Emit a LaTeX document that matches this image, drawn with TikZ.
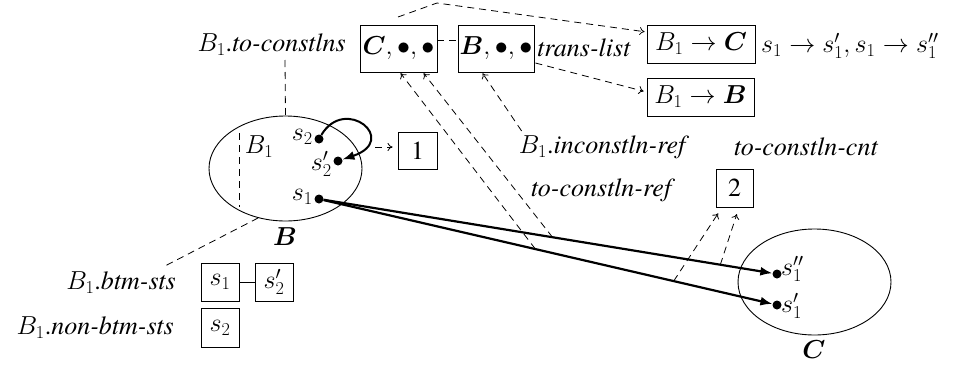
\documentclass[tikz,border=0pt]{standalone}
\usepackage{fix-cm}
\usepackage{fontspec}
\IfFontExistsTF{texgyretermes-regular.otf}{%
  \newfontfamily\tms{texgyretermes}[Extension=.otf, UprightFont=*-regular, ItalicFont=*-italic, BoldFont=*-bold, BoldItalicFont=*-bolditalic]}{%
  \IfFontExistsTF{LiberationSerif-Regular.ttf}{%
    \newfontfamily\tms{LiberationSerif}[Extension=.ttf, UprightFont=*-Regular, ItalicFont=*-Italic, BoldFont=*-Bold, BoldItalicFont=*-BoldItalic]}{%
    \newfontfamily\tms{Liberation Serif}}}
\usepackage{bm}
\usetikzlibrary{arrows.meta,shapes.geometric}
\begin{document}
\begin{tikzpicture}[x=1pt,y=-1pt,
  every node/.style={font=\tms\fontsize{26}{31}\selectfont, inner sep=0pt},
  boxn/.style={draw, line width=0.9pt, inner sep=0pt, minimum height=38},
  dot/.style={circle, fill, inner sep=0pt, minimum size=9},
  dsh/.style={line width=0.8pt, dash pattern=on 7pt off 5pt},
  darr/.style={dsh, -{To[length=5pt,width=8pt]}},
  thk/.style={line width=2.2pt, -{Latex[length=12pt,width=9pt]}},
  ell/.style={draw, ellipse, line width=0.9pt, inner sep=0pt}]
\useasboundingbox (0,0) rectangle (957,367);

% top row
\node[anchor=east] (tcl) at (346,45) {$B_1$.\textit{to-constlns}};
\node[boxn, minimum width=77, minimum height=47] (cb) at (398.5,48.5) {$\bm{C},\bullet,\bullet$};
\node[boxn, minimum width=76, minimum height=47] (bb) at (496,48.5) {$\bm{B},\bullet,\bullet$};
\node[anchor=west] (tl) at (537,48) {\textit{trans-list}};
\node[boxn, minimum width=108] (tc) at (701,44) {$B_1\rightarrow \bm{C}$};
\node[anchor=west] (tcs) at (761,46) {$s_1\rightarrow s_1', s_1\rightarrow s_1''$};
\node[boxn, minimum width=107] (tb) at (700.5,97) {$B_1\rightarrow \bm{B}$};

% ellipse B
\node[ell, minimum width=153, minimum height=105] (eB) at (285.5,168.5) {};
\node (lB) at (285,237) {$\bm{B}$};
\node (lB1) at (259,147) {$B_1$};
\node[dot] (s2) at (319,139) {};
\node[dot] (s2p) at (338,161) {};
\node[dot] (s1) at (319,199) {};
\node[anchor=east] (ls2) at (313,137) {$s_2$};
\node[anchor=east] (ls2p) at (332,164) {$s_2'$};
\node[anchor=east] (ls1) at (313,197) {$s_1$};
\node[boxn, minimum width=39, minimum height=37] (one) at (417.5,150.5) {1};

% middle labels
\node (inc) at (604,147) {$B_1$.\textit{inconstln-ref}};
\node (tcc) at (806,147) {\textit{to-constln-cnt}};
\node (tcr) at (603,190) {\textit{to-constln-ref}};
\node[boxn, minimum width=37] (cnt) at (734.5,188) {2};

% ellipse C
\node[ell, minimum width=153, minimum height=106] (eC) at (814.5,282) {};
\node (lC) at (814,350) {$\bm{C}$};
\node[dot] (s1pp) at (777,274) {};
\node[dot] (s1p) at (777,305) {};
\node[anchor=west] (ls1pp) at (781,269) {$s_1''$};
\node[anchor=west] (ls1p) at (781,306) {$s_1'$};

% bottom left
\node[anchor=east] (btm) at (176,283) {$B_1$.\textit{btm-sts}};
\node[boxn, minimum width=38] (bs1) at (220,282) {$s_1$};
\node[boxn, minimum width=38] (bs2p) at (274,282) {$s_2'$};
\node[anchor=east] (nbtm) at (174,328) {$B_1$.\textit{non-btm-sts}};
\node[boxn, minimum width=38, minimum height=39] (bs2) at (220,327.5) {$s_2$};

% coordinates
\coordinate (a0) at (398,17);
\coordinate (topk) at (437,3);
\coordinate (tclb) at (285,60);
\coordinate (btmk) at (163,267);
\coordinate (onest) at (375,147);

% connectors
\draw[thk] (s1) -- (s1pp) coordinate[pos=0.51] (u1) coordinate[pos=0.884] (u2);
\draw[thk] (s1) -- (s1p) coordinate[pos=0.472] (w1) coordinate[pos=0.78] (w2);
\draw[line width=2pt, -{Latex[length=12pt,width=9pt]}] (s2) .. controls (345,95) and (400,140) .. (s2p);

\draw[dsh] (tclb) -- (eB.north);
\draw[dsh] (239,133) -- (239,207);
\draw[dsh] (eB.241) -- (btmk);
\draw[dsh] ([yshift=8.5pt]cb.east) -- ([yshift=8.5pt]bb.west);
\draw[darr, shorten >=2pt] (a0) -- (topk) -- ([yshift=12pt]tc.west);
\draw[darr, shorten >=3pt] ([xshift=1pt,yshift=-14.5pt]bb.east) -- ([yshift=5pt]tb.west);
\draw[darr, shorten >=1pt] ([xshift=3pt,yshift=16pt]inc.west) -- ([xshift=-14pt]bb.south);
\draw[darr, shorten >=1pt] (w1) -- ([xshift=1.5pt]cb.south);
\draw[darr, shorten >=1pt] (u1) -- ([xshift=24.5pt]cb.south);
\draw[darr, shorten >=7pt] (w2) -- ([xshift=-12.5pt]cnt.south);
\draw[darr, shorten >=7pt] (u2) -- ([xshift=4.5pt]cnt.south);
\draw[darr, shorten >=5pt] (onest) -- ([yshift=3.5pt]one.west);
\draw[line width=0.9pt] (bs1) -- (bs2p);
\end{tikzpicture}
\end{document}
